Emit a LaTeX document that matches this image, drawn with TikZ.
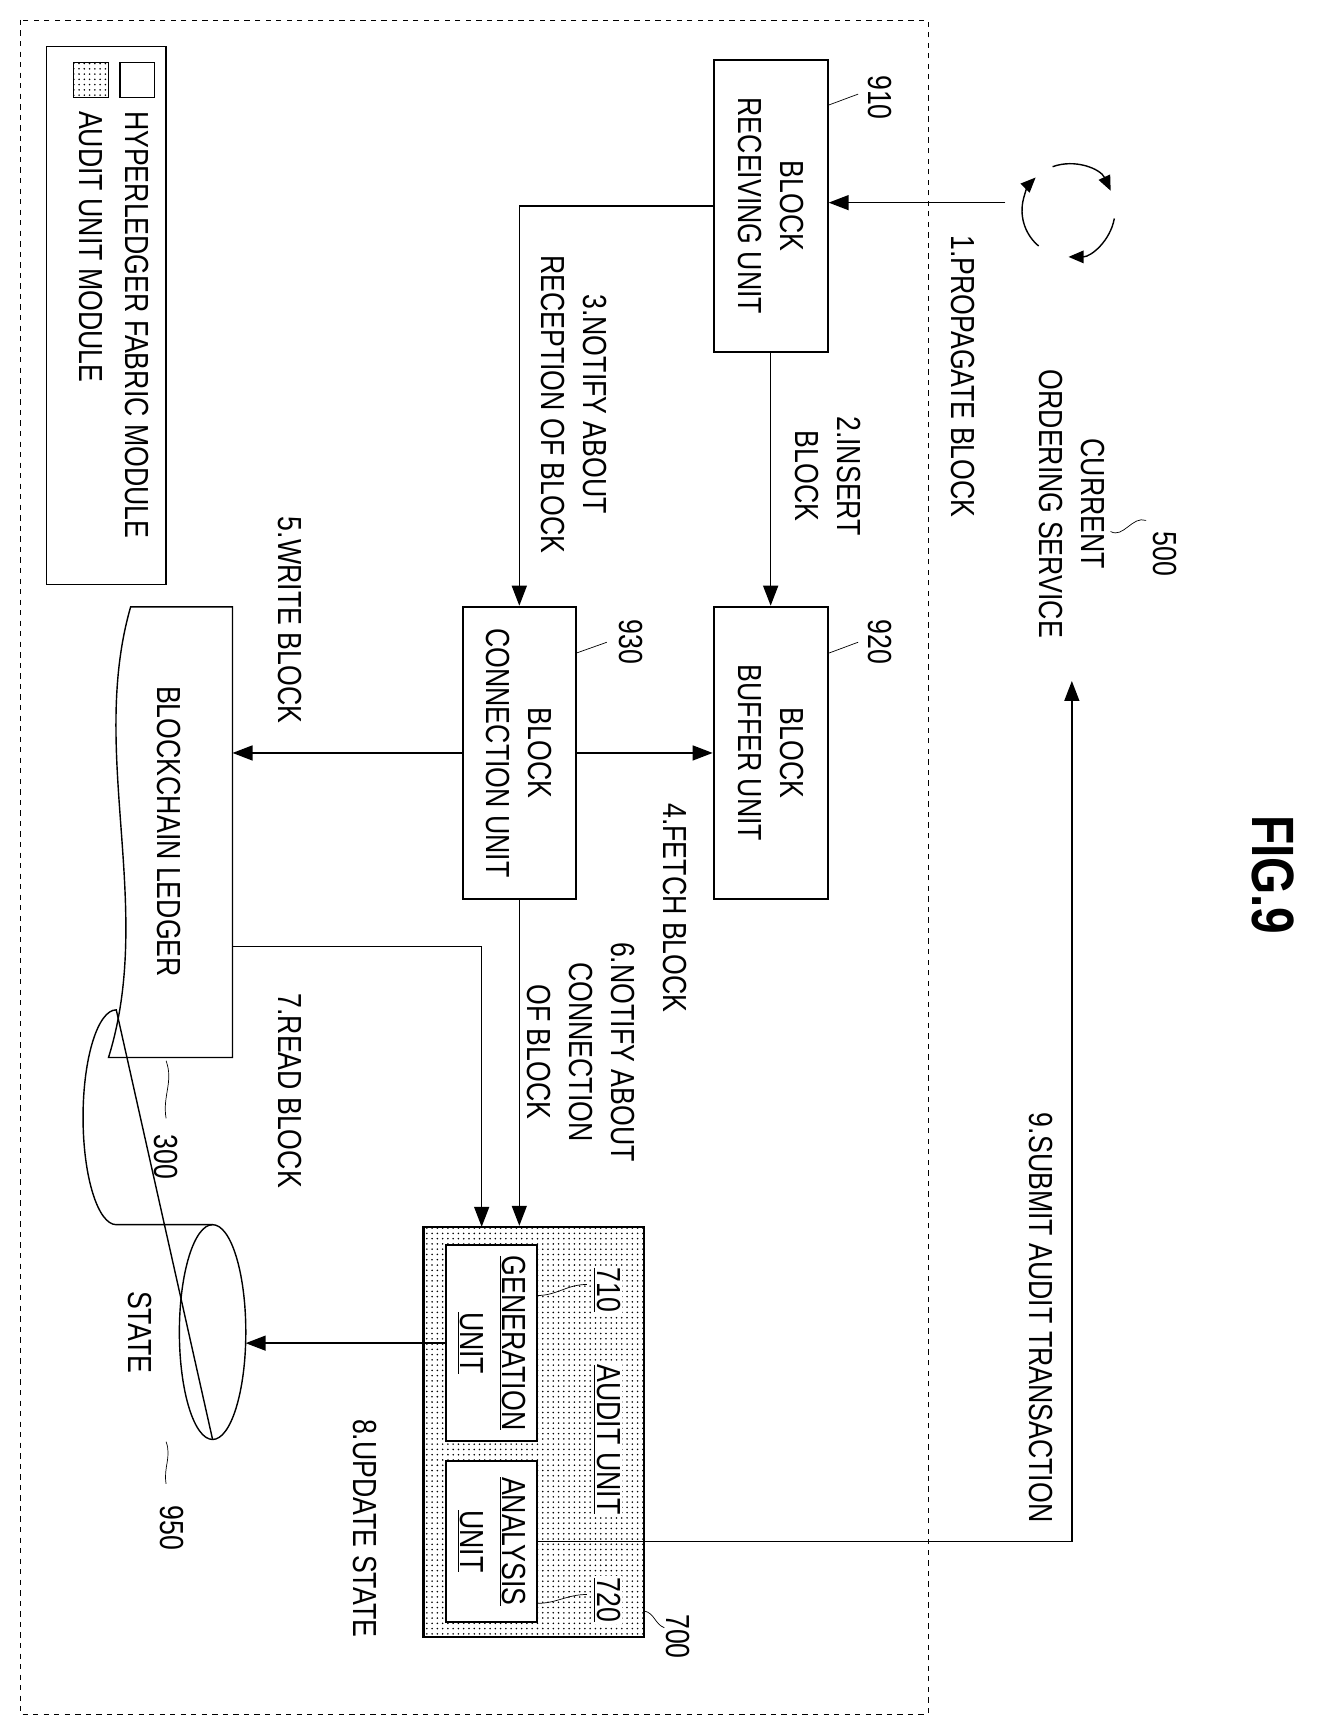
\documentclass[tikz,border=0pt]{standalone}
\usepackage{fontspec}
\setmainfont{Liberation Sans}[FakeStretch=0.8]
\usetikzlibrary{shapes.geometric, arrows.meta, positioning, patterns}

\begin{document}
\begin{tikzpicture}[
    x=0.02215cm, y=-0.02215cm,
    box/.style={draw, very thick, rotate=-90, align=center, inner sep=0pt, font=\fontsize{19}{24}\selectfont},
    txt/.style={rotate=-90, align=center, inner sep=0pt, font=\fontsize{19}{24}\selectfont},
    arrow/.style={-{Triangle[length=4mm, width=3mm]}, thick},
    cyc/.style={thick, -{Triangle[length=3mm, width=2.5mm]}},
    squig/.style={thin}
]
    \useasboundingbox (0,0) rectangle (1200,1566);
    % frame and legend
    \draw[dashed, thin] (18,18) rectangle (838,1548);
    \node[draw, thick, rotate=-90, minimum width=10.77cm, minimum height=2.39cm] (legend) at (96,285) {};
    \node[draw, thick, minimum size=0.7cm] (hfsq) at (124,72) {};
    \node[draw, thick, minimum size=0.7cm, pattern=dots] (ausq) at (82,72) {};
    \node[txt, anchor=west] (hflbl) at (124,100) {HYPERLEDGER FABRIC MODULE};
    \node[txt, anchor=west] (aulbl) at (82,100) {AUDIT UNIT MODULE};

    % ordering service
    \coordinate (os) at (965,190);
    \draw[cyc] (os) ++(250:42) arc[start angle=250, end angle=335, radius=42];
    \draw[cyc] (os) ++(10:42) arc[start angle=10, end angle=90, radius=42];
    \draw[cyc] (os) ++(130:42) arc[start angle=130, end angle=225, radius=42];
    \coordinate (osw) at (908,183);
    \node[txt] (oslbl) at (968,455) {CURRENT\\ORDERING SERVICE};
    \node[txt] (n500) at (1052,500) {500};
    \draw[squig] (1003,480) to[out=-30, in=160] (1035,470);

    % units
    \node[box, minimum width=5.83cm, minimum height=2.28cm] (bru) at (696,186) {BLOCK\\RECEIVING UNIT};
    \node[box, minimum width=5.85cm, minimum height=2.28cm] (bbu) at (696,680) {BLOCK\\BUFFER UNIT};
    \node[box, minimum width=5.85cm, minimum height=2.26cm] (bcu) at (469,680) {BLOCK\\CONNECTION UNIT};
    \node[txt] (n910) at (795,88) {910};
    \node[txt] (n920) at (795,580) {920};
    \node[txt] (n930) at (570,580) {930};
    \draw[squig] (748,95) to[out=20, in=200] (775,85);
    \draw[squig] (748,590) to[out=20, in=200] (775,580);
    \draw[squig] (520,590) to[out=20, in=200] (548,580);

    % ledger
    \draw[thick] (210,548) -- (118,548) .. controls (80,680) and (140,820) .. (98,955) -- (210,955) -- cycle;
    \node[txt, minimum width=9cm, minimum height=2.5cm] (ledger) at (153,751) {BLOCKCHAIN LEDGER};
    \node[txt] (n300) at (150,1045) {300};
    \draw[squig] (150,958) to[out=-70, in=100] (150,1010);

    % audit unit
    \node[box, minimum width=8.2cm, minimum height=4.41cm, pattern=dots] (audit) at (482,1293) {};
    \node[box, fill=white, minimum width=3.92cm, minimum height=1.82cm] (gen) at (444,1213) {\underline{GENERATION}\\\underline{UNIT}};
    \node[box, fill=white, minimum width=3.21cm, minimum height=1.82cm] (ana) at (444,1392) {\underline{ANALYSIS}\\\underline{UNIT}};
    \node[txt, fill=white, inner sep=1pt] (n710) at (548,1165) {\underline{710}};
    \node[txt, fill=white, inner sep=1pt] (aulabel) at (548,1300) {\underline{AUDIT UNIT}};
    \node[txt, fill=white, inner sep=1pt] (n720) at (548,1445) {\underline{720}};
    \node[txt] (n700) at (612,1478) {700};
    \draw[squig] (582,1455) to[out=-10, in=160] (600,1470);
    \draw[squig] (485,1170) to[out=0, in=180] (530,1160);
    \draw[squig] (485,1448) to[out=0, in=180] (530,1440);

    % state
    \node[minimum width=3.26cm, minimum height=4.32cm, inner sep=0pt] (state) at (148,1203) {};
    \draw[thick] (192,1106) -- (105,1106) arc[start angle=270, end angle=90, x radius=30, y radius=-97] -- (192,1300);
    \draw[thick] (192,1203) ellipse[x radius=30, y radius=97];
    \node[txt] (statelbl) at (126,1203) {STATE};
    \node[txt] (n950) at (155,1380) {950};
    \draw[squig] (150,1302) to[out=-70, in=100] (150,1340);

    % connectors
    \coordinate (rd) at (210,855);
    \coordinate (rdin) at (435,1108);
    \coordinate (wr) at (210,680);
    \coordinate (subm) at (968,615);
    \draw[arrow] (osw) -- (osw -| bru.north);
    \draw[arrow] (bru.east) -- (bbu.west);
    \draw[arrow] (bru.south) -| (bcu.west);
    \draw[arrow] (bcu.north) -- (bbu.south);
    \draw[arrow] (bcu.south) -- (wr);
    \draw[arrow] (bcu.east) -- (bcu.east |- audit.west);
    \draw[arrow] (rd) -| (rdin);
    \draw[arrow] (gen.south) -- (gen.south -| state.east);
    \draw[arrow] (ana.north) -| (subm);

    % labels
    \node[txt] (l1) at (870,340) {1.PROPAGATE BLOCK};
    \node[txt] (l2) at (748,430) {2.INSERT\\BLOCK};
    \node[txt] (l3) at (518,365) {3.NOTIFY ABOUT\\RECEPTION OF BLOCK};
    \node[txt] (l4) at (610,820) {4.FETCH BLOCK};
    \node[txt] (l5) at (262,560) {5.WRITE BLOCK};
    \node[txt] (l6) at (525,950) {6.NOTIFY ABOUT\\CONNECTION\\OF BLOCK};
    \node[txt] (l7) at (262,985) {7.READ BLOCK};
    \node[txt] (l8) at (330,1380) {8.UPDATE STATE};
    \node[txt] (l9) at (940,1190) {9.SUBMIT AUDIT TRANSACTION};
    \node[rotate=-90, font=\fontsize{34}{40}\selectfont\bfseries] (fig) at (1150,790) {FIG.9};
\end{tikzpicture}
\end{document}
